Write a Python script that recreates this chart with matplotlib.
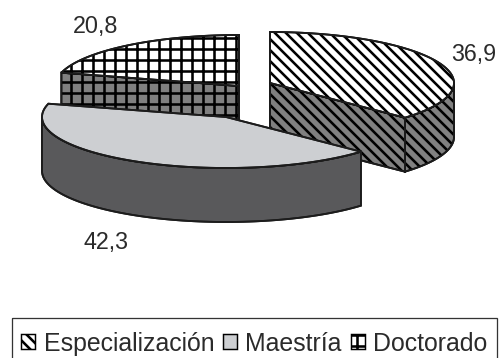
import numpy as np
import matplotlib
matplotlib.use('Agg')
import matplotlib.pyplot as plt
from matplotlib.patches import Polygon, Patch, Rectangle

categories = ['Especialización', 'Maestría', 'Doctorado']
values = [36.9, 42.3, 20.8]
value_labels = ['36,9', '42,3', '20,8']

plt.rcParams['font.family'] = ['Liberation Sans', 'DejaVu Sans']
plt.rcParams['hatch.linewidth'] = 2.8

dpi = 66
fig = plt.figure(figsize=(501 / dpi, 358 / dpi), dpi=dpi)
ax = fig.add_axes([0, 0, 1, 1])
ax.set_xlim(0, 501)
ax.set_ylim(358, 0)
ax.axis('off')

rx, ry, depth = 184, 51, 54
fracs = np.array(values) / sum(values) * 360
edges = np.concatenate([[0], np.cumsum(fracs)])
# centre of every exploded wedge
centers = [(270, 83), (226, 117), (239, 86)]
top_colors = ['white', '#cdcfd2', 'white']
side_colors = ['#808080', '#59595b', '#808080']
hatches = ['\\\\', None, '+']
ink = '#1c1c1c'


def rim(c, a0, a1, dy=0):
    t = np.radians(np.linspace(a0, a1, 80))
    return np.column_stack([c[0] + rx * np.sin(t), c[1] + dy - ry * np.cos(t)])


def face(pts, color, hatch, z):
    ax.add_patch(Polygon(pts, closed=True, facecolor=color, edgecolor='black' if hatch else ink,
                         hatch=hatch, lw=2, zorder=z))
    ax.add_patch(Polygon(pts, closed=True, fill=False, edgecolor=ink, lw=2, zorder=z))


def wedge(i, z):
    c = centers[i]
    a0, a1 = edges[i], edges[i + 1]
    # cut faces that look towards the viewer
    if i == 0:
        p = rim(c, a1, a1)[0]
        face([c, p, (p[0], p[1] + depth), (c[0], c[1] + depth)], side_colors[i], hatches[i], z)
        face(np.vstack([rim(c, 90, a1), rim(c, a1, 90, depth)]), side_colors[i], hatches[i], z)
    if i == 1:
        face(np.vstack([rim(c, a0, 270), rim(c, 270, a0, depth)]), side_colors[i], hatches[i], z)
    if i == 2:
        p = rim(c, a0, a0)[0]
        face([c, p, (p[0], p[1] + depth), (c[0], c[1] + depth)], side_colors[i], hatches[i], z)
    face(np.vstack([[c], rim(c, a0, a1)]), top_colors[i], hatches[i], z + 0.5)


wedge(2, 2)
wedge(0, 3)
wedge(1, 4)

label_pos = [(474, 54), (106, 243), (96, 27)]
for lab, pos in zip(value_labels, label_pos):
    ax.text(pos[0], pos[1], lab, fontsize=25.5, color='#2b2b2b', ha='center', va='center')

# legend box runs past the bottom of the picture
ax.add_patch(Rectangle((12, 318), 485, 50, facecolor='none', edgecolor='#333333', lw=1.4, zorder=1))
handles = [Patch(facecolor=top_colors[i], edgecolor='black', hatch=hatches[i], lw=1.6)
           for i in range(3)]
leg = ax.legend(handles, categories, ncol=3, loc='lower left', bbox_to_anchor=(14 / 501, -5 / 358),
                fontsize=27.2, frameon=False,
                handlelength=0.55, handleheight=0.55, handletextpad=0.34, columnspacing=0.36,
                labelcolor='#2b2b2b', borderpad=0.3, borderaxespad=0)

plt.savefig('out.png', dpi=dpi)
